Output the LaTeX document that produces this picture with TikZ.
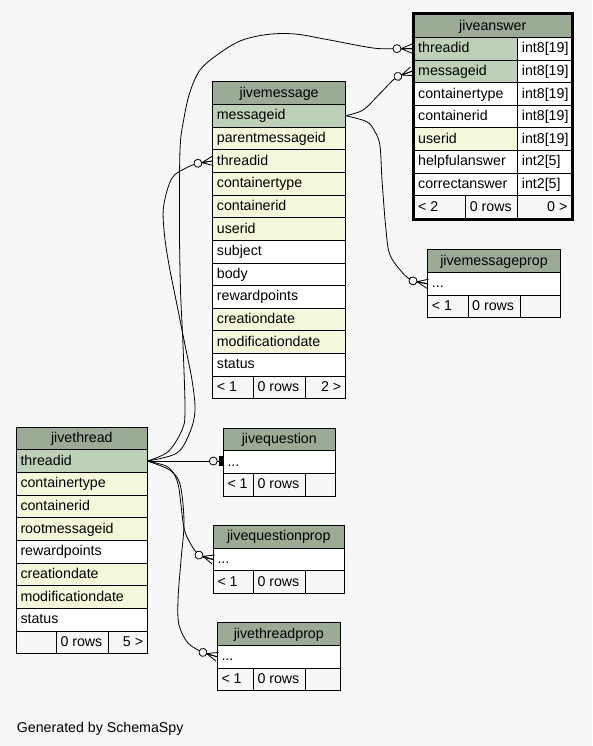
\documentclass[tikz,border=0pt]{standalone}
\usepackage{fontspec}
\setmainfont{Liberation Sans}
\definecolor{bgcol}{HTML}{F7F7F7}
\definecolor{hdrcol}{HTML}{9BAB96}
\definecolor{pkcol}{HTML}{BED1B8}
\definecolor{fkcol}{HTML}{F4F7DA}
\newcommand\cellfont{\fontsize{14.2pt}{17pt}\selectfont}
\tikzset{
  cellbox/.style={draw=black, line width=0.8pt, inner sep=0pt, outer sep=0pt, anchor=north west, minimum height=22.65pt},
  celltext/.style={inner sep=0pt, text height=10.2pt, text depth=2pt, font=\cellfont},
  conn/.style={line width=0.8pt, draw=black},
  crowodot/.pic={
    \draw[line width=0.8pt] (-11,0) -- (0,4.6) (-11,0) -- (0,-4.6) (-11,0) -- (0,0);
    \draw[line width=0.8pt, fill=bgcol] (-15,0) circle[radius=4pt];
  },
  teeodot/.pic={
    \fill[black] (-4.6,-5) rectangle (0,5);
    \draw[line width=0.8pt, fill=bgcol] (-10,0) circle[radius=4pt];
  },
}
% name, fill, x, y, width, text (left aligned)
\newcommand\tcell[6]{%
  \node[cellbox, fill=#2, minimum width=#5] (#1) at (#3,#4) {};
  \node[celltext, anchor=west] (#1-t) at ([xshift=4pt]#1.west) {#6};
}
% name, fill, x, y, width, text (right aligned)
\newcommand\rcell[6]{%
  \node[cellbox, fill=#2, minimum width=#5] (#1) at (#3,#4) {};
  \node[celltext, anchor=east] (#1-t) at ([xshift=-4pt]#1.east) {#6};
}
% name, x, y, width, text (header, centered)
\newcommand\hcell[5]{%
  \node[cellbox, fill=hdrcol, minimum width=#4] (#1) at (#2,#3) {};
  \node[celltext] (#1-t) at (#1.center) {#5};
}
\begin{document}
\begin{tikzpicture}[x=1pt,y=-1pt]
\fill[bgcol] (0,0) rectangle (592,746);
\useasboundingbox (0,0) rectangle (592,746);

% ---------- jiveanswer ----------
\hcell{ans-h}{414}{14.65}{157.5}{jiveanswer}
\tcell{ans-threadid}{pkcol}{414}{37.3}{103.7}{threadid}
\tcell{ans-threadid-ty}{white}{517.7}{37.3}{53.8}{int8[19]}
\tcell{ans-messageid}{pkcol}{414}{59.95}{103.7}{messageid}
\tcell{ans-messageid-ty}{white}{517.7}{59.95}{53.8}{int8[19]}
\tcell{ans-containertype}{white}{414}{82.6}{103.7}{containertype}
\tcell{ans-containertype-ty}{white}{517.7}{82.6}{53.8}{int8[19]}
\tcell{ans-containerid}{white}{414}{105.25}{103.7}{containerid}
\tcell{ans-containerid-ty}{white}{517.7}{105.25}{53.8}{int8[19]}
\tcell{ans-userid}{fkcol}{414}{127.9}{103.7}{userid}
\tcell{ans-userid-ty}{white}{517.7}{127.9}{53.8}{int8[19]}
\tcell{ans-helpful}{white}{414}{150.55}{103.7}{helpfulanswer}
\tcell{ans-helpful-ty}{white}{517.7}{150.55}{53.8}{int2[5]}
\tcell{ans-correct}{white}{414}{173.2}{103.7}{correctanswer}
\tcell{ans-correct-ty}{white}{517.7}{173.2}{53.8}{int2[5]}
\tcell{ans-f1}{bgcol}{414}{195.85}{51.7}{< 2}
\tcell{ans-f2}{bgcol}{465.7}{195.85}{52}{0 rows}
\rcell{ans-f3}{bgcol}{517.7}{195.85}{53.8}{0 >}
\draw[line width=2.6pt] (413,13.4) rectangle (572.8,219.8);

% ---------- jivemessage ----------
\hcell{msg-h}{212.7}{81.7}{132.8}{jivemessage}
\tcell{msg-messageid}{pkcol}{212.7}{104.35}{132.8}{messageid}
\tcell{msg-parent}{fkcol}{212.7}{127.0}{132.8}{parentmessageid}
\tcell{msg-threadid}{fkcol}{212.7}{149.65}{132.8}{threadid}
\tcell{msg-containertype}{fkcol}{212.7}{172.3}{132.8}{containertype}
\tcell{msg-containerid}{fkcol}{212.7}{194.95}{132.8}{containerid}
\tcell{msg-userid}{fkcol}{212.7}{217.6}{132.8}{userid}
\tcell{msg-subject}{white}{212.7}{240.25}{132.8}{subject}
\tcell{msg-body}{white}{212.7}{262.9}{132.8}{body}
\tcell{msg-reward}{white}{212.7}{285.55}{132.8}{rewardpoints}
\tcell{msg-creation}{fkcol}{212.7}{308.2}{132.8}{creationdate}
\tcell{msg-modification}{fkcol}{212.7}{330.85}{132.8}{modificationdate}
\tcell{msg-status}{white}{212.7}{353.5}{132.8}{status}
\tcell{msg-f1}{bgcol}{212.7}{376.15}{40.6}{< 1}
\tcell{msg-f2}{bgcol}{253.3}{376.15}{52}{0 rows}
\rcell{msg-f3}{bgcol}{305.3}{376.15}{40.2}{2 >}

% ---------- jivethread ----------
\hcell{th-h}{16.3}{427.05}{131}{jivethread}
\tcell{th-threadid}{pkcol}{16.3}{449.7}{131}{threadid}
\tcell{th-containertype}{fkcol}{16.3}{472.35}{131}{containertype}
\tcell{th-containerid}{fkcol}{16.3}{495.0}{131}{containerid}
\tcell{th-root}{fkcol}{16.3}{517.65}{131}{rootmessageid}
\tcell{th-reward}{white}{16.3}{540.3}{131}{rewardpoints}
\tcell{th-creation}{fkcol}{16.3}{562.95}{131}{creationdate}
\tcell{th-modification}{fkcol}{16.3}{585.6}{131}{modificationdate}
\tcell{th-status}{white}{16.3}{608.25}{131}{status}
\tcell{th-f1}{bgcol}{16.3}{630.9}{40}{}
\tcell{th-f2}{bgcol}{56.3}{630.9}{52.4}{0 rows}
\rcell{th-f3}{bgcol}{108.7}{630.9}{38.6}{5 >}

% ---------- jivequestion ----------
\hcell{q-h}{223.3}{428}{112}{jivequestion}
\tcell{q-dots}{white}{223.3}{450.65}{112}{...}
\tcell{q-f1}{bgcol}{223.3}{473.3}{30}{< 1}
\tcell{q-f2}{bgcol}{253.3}{473.3}{52}{0 rows}
\tcell{q-f3}{bgcol}{305.3}{473.3}{30}{}

% ---------- jivequestionprop ----------
\hcell{qp-h}{213.3}{525.5}{131}{jivequestionprop}
\tcell{qp-dots}{white}{213.3}{548.15}{131}{...}
\tcell{qp-f1}{bgcol}{213.3}{570.8}{40}{< 1}
\tcell{qp-f2}{bgcol}{253.3}{570.8}{52}{0 rows}
\tcell{qp-f3}{bgcol}{305.3}{570.8}{39}{}

% ---------- jivethreadprop ----------
\hcell{tp-h}{217.3}{622.8}{123}{jivethreadprop}
\tcell{tp-dots}{white}{217.3}{645.45}{123}{...}
\tcell{tp-f1}{bgcol}{217.3}{668.1}{36}{< 1}
\tcell{tp-f2}{bgcol}{253.3}{668.1}{52}{0 rows}
\tcell{tp-f3}{bgcol}{305.3}{668.1}{35}{}

% ---------- jivemessageprop ----------
\hcell{mp-h}{427.7}{249.8}{132.6}{jivemessageprop}
\tcell{mp-dots}{white}{427.7}{272.45}{132.6}{...}
\tcell{mp-f1}{bgcol}{427.7}{295.1}{40.3}{< 1}
\tcell{mp-f2}{bgcol}{468}{295.1}{52.3}{0 rows}
\tcell{mp-f3}{bgcol}{520.3}{295.1}{40}{}

% ---------- connector end points ----------
\coordinate (aend1) at ([xshift=-2pt]ans-threadid.west);
\coordinate (aend2) at ([xshift=-2pt]ans-messageid.west);
\coordinate (qend) at (th-threadid.east -| q-dots.west);

% ---------- connectors ----------
\draw[conn] plot[smooth, tension=0.55] coordinates {(th-threadid.east) (168,451.7) (182,430) (185,410) (183,345) (180.5,290) (179.5,230) (180,150) (184,118) (190,92) (200,70) (217,55) (240,41) (267,34.5) (295,34) (327,39.5) (373,48) (397,48.6) (aend1)};
\draw[conn] plot[smooth, tension=0.55] coordinates {(th-threadid.east) (177,453) (190,432) (195,410) (192,380) (185,345) (176,300) (169,265) (164.5,235) (163.5,207) (171.7,178.5) (186,168) (197.9,163.4) (msg-threadid.west)};
\draw[conn] (th-threadid.east) -- (qend);
\draw[conn] plot[smooth, tension=0.55] coordinates {(th-threadid.east) (166,466) (174,474) (178.5,486) (181,505) (184,528) (189,541) (199,555.1) (qp-dots.west)};
\draw[conn] plot[smooth, tension=0.55] coordinates {(th-threadid.east) (168,469) (178,479) (182,495) (184,525) (181,560) (178,600) (179,625) (188,643) (203,652.4) (tp-dots.west)};
\draw[conn] plot[smooth, tension=0.55] coordinates {(msg-messageid.east) (363,110) (380,93.5) (393,80) (397.9,76.4) (aend2)};
\draw[conn] plot[smooth, tension=0.55] coordinates {(msg-messageid.east) (366.7,121.7) (375,131.7) (380,146) (382,180) (386,230) (390,255) (403,273.3) (413,280.9) (mp-dots.west)};

% ---------- end markers ----------
\pic (mk-a) at (aend1) {crowodot};
\pic[rotate=20] (mk-f) at (aend2) {crowodot};
\pic[rotate=9] (mk-b) at (msg-threadid.west) {crowodot};
\pic (mk-c) at (qend) {teeodot};
\pic[rotate=-17] (mk-d) at (qp-dots.west) {crowodot};
\pic[rotate=-17] (mk-e) at (tp-dots.west) {crowodot};
\pic[rotate=-11] (mk-g) at (mp-dots.west) {crowodot};

% ---------- footer text ----------
\node[anchor=base west, inner sep=0pt, font=\cellfont] (gen) at (16.7,732.7) {Generated by SchemaSpy};
\end{tikzpicture}
\end{document}
